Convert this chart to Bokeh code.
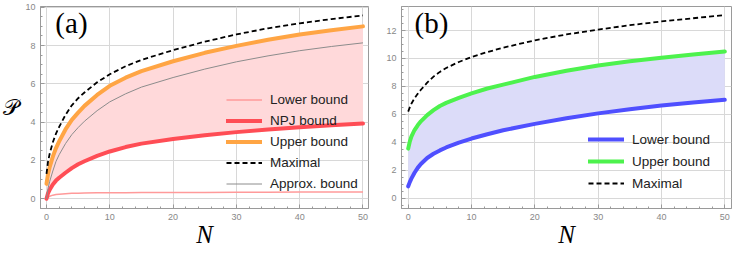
from bokeh.plotting import figure
from bokeh.layouts import row
from bokeh.models import Range1d, Legend, LegendItem, Label, FixedTicker
from bokeh.embed import file_html
from bokeh.resources import INLINE

# ---------------- data ----------------
N = [0, 0.25, 0.5, 1, 1.5, 2, 3, 4, 5, 6, 8, 10, 12.5, 15, 20, 25, 30, 35, 40, 45, 50]

# panel (a)
a_lower   = [0.0, 0.08, 0.13, 0.19, 0.22, 0.24, 0.27, 0.285, 0.295, 0.30, 0.31, 0.315, 0.32, 0.325, 0.33, 0.335, 0.34, 0.345, 0.35, 0.355, 0.36]
a_npj     = [0.0, 0.30, 0.47, 0.75, 0.95, 1.1, 1.36, 1.6, 1.8, 1.96, 2.24, 2.47, 2.7, 2.88, 3.12, 3.32, 3.48, 3.62, 3.74, 3.84, 3.93]
a_upper   = [0.78, 1.3, 1.65, 2.2, 2.65, 3.0, 3.62, 4.12, 4.5, 4.85, 5.42, 5.9, 6.32, 6.66, 7.18, 7.62, 7.98, 8.3, 8.58, 8.8, 9.0]
a_maximal = [1.3, 1.95, 2.35, 2.95, 3.4, 3.75, 4.38, 4.88, 5.25, 5.55, 6.08, 6.5, 6.92, 7.25, 7.76, 8.2, 8.58, 8.9, 9.16, 9.38, 9.57]
a_approx  = [0.0, 0.55, 0.9, 1.45, 1.95, 2.3, 2.88, 3.35, 3.72, 4.05, 4.6, 5.06, 5.48, 5.83, 6.33, 6.77, 7.15, 7.46, 7.73, 7.95, 8.14]

# panel (b)
b_lower   = [0.85, 1.15, 1.4, 1.82, 2.17, 2.45, 2.88, 3.18, 3.42, 3.63, 3.98, 4.27, 4.58, 4.86, 5.32, 5.72, 6.07, 6.37, 6.63, 6.85, 7.04]
b_upper   = [3.55, 4.05, 4.4, 4.88, 5.22, 5.5, 5.95, 6.3, 6.6, 6.82, 7.18, 7.5, 7.85, 8.13, 8.68, 9.12, 9.5, 9.8, 10.05, 10.28, 10.5]
b_maximal = [6.2, 6.5, 6.76, 7.15, 7.47, 7.76, 8.27, 8.7, 9.04, 9.32, 9.75, 10.1, 10.46, 10.77, 11.3, 11.72, 12.07, 12.38, 12.65, 12.88, 13.1]

x_ticks = [0, 10, 20, 30, 40, 50]
x_minor = [0, 2, 4, 6, 8, 10, 12, 14, 16, 18, 20, 22, 24, 26, 28, 30, 32, 34, 36, 38, 40, 42, 44, 46, 48, 50]
a_y_ticks = [0, 2, 4, 6, 8, 10]
b_y_ticks = [0, 2, 4, 6, 8, 10, 12]

TICK_FONT = "Liberation Sans"
GRAY = "#9a9a9a"


def style(p, yticks):
    p.xaxis.ticker = FixedTicker(ticks=x_ticks, minor_ticks=x_minor)
    p.yaxis.ticker = FixedTicker(ticks=yticks,
                                 minor_ticks=[v * 0.5 for v in range(-1, int(yticks[-1] * 2) + 4)])
    for ax in (p.xaxis[0], p.yaxis[0]):
        ax.axis_line_color = GRAY
        ax.major_tick_line_color = GRAY
        ax.minor_tick_line_color = GRAY
        ax.major_tick_in = 4
        ax.major_tick_out = 0
        ax.minor_tick_in = 2
        ax.minor_tick_out = 0
        ax.major_label_text_font = TICK_FONT
        ax.major_label_text_font_size = "9px"
        ax.major_label_text_color = "#888888"
        ax.major_label_standoff = 5
    p.grid.grid_line_color = "#d8d8d8"
    p.grid.grid_line_width = 1
    p.outline_line_color = GRAY
    p.background_fill_color = "white"
    p.border_fill_color = "white"
    p.xaxis.axis_label = "N"
    p.xaxis.axis_label_text_font = "Liberation Serif"
    p.xaxis.axis_label_text_font_style = "italic"
    p.xaxis.axis_label_text_font_size = "25px"
    p.xaxis.axis_label_text_color = "black"
    p.xaxis.axis_label_standoff = -2


# ---------------- panel (a) ----------------
pa = figure(frame_width=328, frame_height=202, output_backend="svg", toolbar_location=None,
            x_range=Range1d(-0.947, 50.87), y_range=Range1d(-0.506, 10.037),
            min_border_left=40, min_border_right=2, min_border_top=6, min_border_bottom=0)
style(pa, a_y_ticks)
pa.varea(x=N, y1=a_npj, y2=a_upper, fill_color="#ffd9da", fill_alpha=1.0)
r_low = pa.line(N, a_lower, line_color="#ff9a9a", line_width=1.5)
r_npj = pa.line(N, a_npj, line_color="#ff4d55", line_width=4, line_cap="round", line_join="round")
r_up = pa.line(N, a_upper, line_color="#ffa544", line_width=4, line_cap="round", line_join="round")
r_max = pa.line(N, a_maximal, line_color="black", line_width=1.8, line_dash="5 3")
r_app = pa.line(N, a_approx, line_color="#8c8c8c", line_width=1)

pa.yaxis.axis_label = "𝒫"
pa.yaxis.axis_label_orientation = "horizontal"
pa.yaxis.axis_label_text_font = "DejaVu Serif"
pa.yaxis.axis_label_text_font_style = "normal"
pa.yaxis.axis_label_text_font_size = "22px"
pa.yaxis.axis_label_text_color = "black"
pa.yaxis.axis_label_standoff = 3

leg_a = Legend(items=[LegendItem(label="Lower bound", renderers=[r_low]),
                      LegendItem(label="NPJ bound", renderers=[r_npj]),
                      LegendItem(label="Upper bound", renderers=[r_up]),
                      LegendItem(label="Maximal", renderers=[r_max]),
                      LegendItem(label="Approx. bound", renderers=[r_app])],
               location=(186, 14), padding=0, margin=0, spacing=0,
               glyph_width=36, glyph_height=21, label_height=21, label_standoff=8,
               label_text_font="Liberation Sans", label_text_font_size="13.5px",
               label_text_color="#222222",
               background_fill_alpha=0, border_line_alpha=0)
pa.add_layout(leg_a)
pa.add_layout(Label(x=1.4, y=10.0, text="(a)", text_font="Liberation Serif",
                    text_font_size="29px", text_baseline="top", text_color="black"))

# ---------------- panel (b) ----------------
pb = figure(frame_width=330, frame_height=202, output_backend="svg", toolbar_location=None,
            x_range=Range1d(-1.058, 51.06), y_range=Range1d(-0.737, 13.72),
            min_border_left=31, min_border_right=5, min_border_top=6, min_border_bottom=0)
style(pb, b_y_ticks)
pb.varea(x=N, y1=b_lower, y2=b_upper, fill_color="#dcdcf9", fill_alpha=1.0)
rb_low = pb.line(N, b_lower, line_color="#4f4fff", line_width=4, line_cap="round", line_join="round")
rb_up = pb.line(N, b_upper, line_color="#4df24d", line_width=4, line_cap="round", line_join="round")
rb_max = pb.line(N, b_maximal, line_color="black", line_width=1.8, line_dash="5 3")

leg_b = Legend(items=[LegendItem(label="Lower bound", renderers=[rb_low]),
                      LegendItem(label="Upper bound", renderers=[rb_up]),
                      LegendItem(label="Maximal", renderers=[rb_max])],
               location=(187, 14), padding=0, margin=0, spacing=0,
               glyph_width=36, glyph_height=22, label_height=22, label_standoff=8,
               label_text_font="Liberation Sans", label_text_font_size="13.5px",
               label_text_color="#222222",
               background_fill_alpha=0, border_line_alpha=0)
pb.add_layout(leg_b)
pb.add_layout(Label(x=1.0, y=13.65, text="(b)", text_font="Liberation Serif",
                    text_font_size="29px", text_baseline="top", text_color="black"))

layout = row(pa, pb, spacing=0)
open("out.html", "w").write(file_html(layout, INLINE))
